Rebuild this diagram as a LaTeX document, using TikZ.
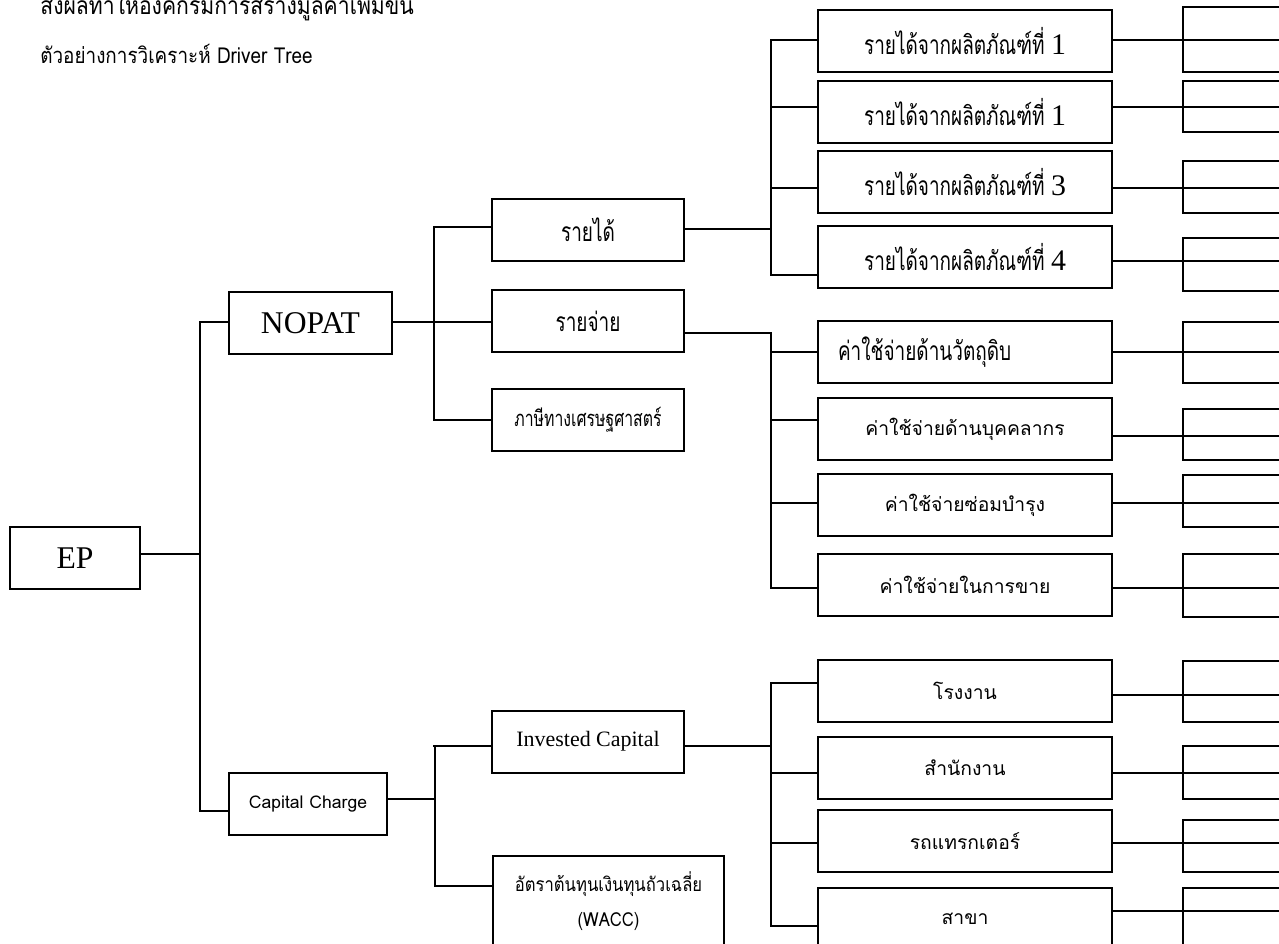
\documentclass[tikz,border=0pt]{standalone}
\usepackage{fontspec}
\setmainfont{Liberation Serif}
\newfontfamily\thaiserif[Script=Thai,FakeStretch=0.72]{Loma}
\newfontfamily\thaisans[Script=Thai]{Loma}
\newfontfamily\thaisansc[Script=Thai,FakeStretch=0.86]{Loma}

% box on the right edge, cut by the page
\newcommand{\stub}[4]{%
    \draw[link] ([shift={(0,#2)}]#1.east) -- +(250,0);
    \draw[link] (1300,#3) -- (1183,#3) -- (1183,#4) -- (1300,#4);
}
\newcommand{\pnum}[1]{{\rmfamily\fontsize{17}{20}\selectfont #1}}

\begin{document}
\begin{tikzpicture}[x=0.02cm, y=-0.02cm,
    box/.style={draw, line width=1.3pt, inner sep=0pt, minimum height=1.24cm},
    mid/.style={box, minimum width=3.84cm},
    leaf/.style={box, minimum width=5.88cm},
    link/.style={line width=1.2pt},
    big/.style={font=\rmfamily\fontsize{18}{22}\selectfont},
    tserif/.style={font=\thaiserif\fontsize{15}{18}\selectfont},
    tsans/.style={font=\thaisans\fontsize{11}{14}\selectfont},
    title/.style={font=\thaisansc\fontsize{12.5}{15}\selectfont, anchor=base west, inner sep=0pt}]
    \path[use as bounding box, clip] (0,0) rectangle (1279,944);

    \node[title, font=\thaisansc\fontsize{14}{17}\selectfont] (head) at (40,14) {ส่งผลทำให้องค์กรมีการสร้างมูลค่าเพิ่มขึ้น};
    \node[title] (sub) at (40,63) {ตัวอย่างการวิเคราะห์ Driver Tree};

    % left part
    \node[box, big, minimum width=2.6cm] (ep) at (75,558) {EP};
    \node[box, big, minimum width=3.26cm] (nopat) at (310.5,323) {NOPAT};
    \node[box, font=\thaisans\fontsize{10}{12}\selectfont, minimum width=3.16cm] (cc) at (308,804) {Capital Charge};
    \node[mid, tserif] (rev) at (588,230) {รายได้};
    \node[mid, tserif] (exp) at (588,321) {รายจ่าย};
    \node[mid, font=\thaiserif\fontsize{12.5}{15}\selectfont] (tax) at (588,420) {ภาษีทางเศรษฐศาสตร์};
    \node[mid, font=\rmfamily\fontsize{12.5}{15}\selectfont] (ic) at (588,742) {\raisebox{3pt}{Invested Capital}};
    \node[box, font=\thaisansc\fontsize{11}{14}\selectfont, minimum width=4.62cm, minimum height=1.8cm, align=center] (wacc) at (608.5,901)
        {อัตราต้นทุนเงินทุนถัวเฉลี่ย\\[6pt](WACC)};

    % right part
    \node[leaf, tserif] (p1) at (965,41) {รายได้จากผลิตภัณฑ์ที่ \pnum{1}};
    \node[leaf, tserif] (p2) at (965,112) {รายได้จากผลิตภัณฑ์ที่ \pnum{1}};
    \node[leaf, tserif] (p3) at (965,182) {รายได้จากผลิตภัณฑ์ที่ \pnum{3}};
    \node[leaf, tserif] (p4) at (965,257) {รายได้จากผลิตภัณฑ์ที่ \pnum{4}};
    \node[leaf, tserif, text width=5.08cm, align=left] (c1) at (965,352) {ค่าใช้จ่ายด้านวัตถุดิบ};
    \node[leaf, tsans] (c2) at (965,429) {ค่าใช้จ่ายด้านบุคคลากร};
    \node[leaf, tsans] (c3) at (965,505) {ค่าใช้จ่ายซ่อมบำรุง};
    \node[leaf, tsans] (c4) at (965,585) {ค่าใช้จ่ายในการขาย};
    \node[leaf, tsans] (a1) at (965,691) {โรงงาน};
    \node[leaf, tsans] (a2) at (965,768) {สำนักงาน};
    \node[leaf, tsans] (a3) at (965,841) {รถแทรกเตอร์};
    \node[leaf, tsans] (a4) at (965,919) {สาขา};

    % elbow lines
    \draw[link] ([shift={(0,-4)}]ep.east) -- +(60,0);
    \draw[link] (200,322) -- (200,811);
    \draw[link] ([shift={(0,-1)}]nopat.east) -- +(42,0);
    \draw[link] (434,227) -- (434,420);
    \draw[link] ([shift={(0,-5)}]cc.east) -- +(48,0);
    \draw[link] (435,746) -- (435,886);
    \draw[link] ([shift={(0,-1)}]rev.east) -- +(87,0);
    \draw[link] ([shift={(0,12)}]exp.east) -- +(87,0);
    \draw[link] ([shift={(0,4)}]ic.east) -- +(87,0);
    \draw[link] (771,40) -- (771,275);
    \draw[link] (771,333) -- (771,588);
    \draw[link] (771,683) -- (771,926);
    \foreach \n/\d/\l in {nopat/-1/-29, cc/7/-29, rev/-3/-58, exp/1/-58, tax/0/-58,
        ic/4/-58, wacc/-15/-58, p1/-1/-47, p2/-5/-47, p3/6/-47, p4/18/-47,
        c1/0/-47, c2/-9/-47, c3/-2/-47, c4/3/-47, a1/-8/-47, a2/5/-47, a3/2/-47, a4/7/-47} {
        \draw[link] ([shift={(0,\d)}]\n.west) -- +(\l,0);
    }

    % boxes cut by the right edge
    \foreach \n/\d/\t/\b in {p1/-1/7/72, p2/-5/81/132, p3/6/161/213, p4/4/238/291,
        c1/0/322/383, c2/7/409/460, c3/-2/475/527, c4/3/554/617,
        a1/4/661/722, a2/5/746/799, a3/2/820/872, a4/-8/888/950} {
        \stub{\n}{\d}{\t}{\b}
    }
\end{tikzpicture}
\end{document}
